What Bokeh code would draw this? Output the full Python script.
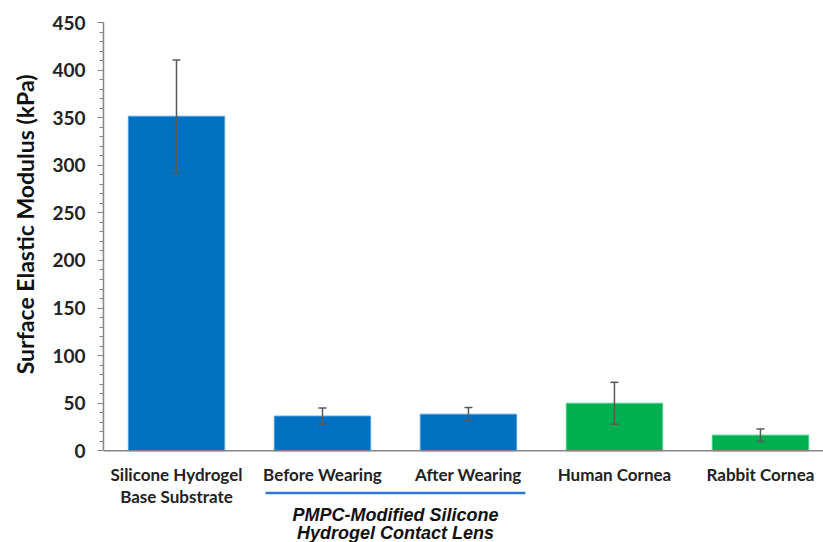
from bokeh.plotting import figure
from bokeh.models import Range1d, FixedTicker, ColumnDataSource, Whisker, TeeHead, Title
from bokeh.core.properties import value
from bokeh.embed import file_html
from bokeh.resources import INLINE

# ---- data ----
categories = ["Silicone Hydrogel\nBase Substrate", "Before Wearing", "After Wearing",
              "Human Cornea", "Rabbit Cornea"]
modulus = [351.5, 36.5, 38.5, 50.0, 16.5]
errors = [59.0, 8.5, 7.0, 22.0, 6.5]
bar_colors = ["#0070C0", "#0070C0", "#0070C0", "#00B050", "#00B050"]
edge_colors = ["#4FA0E0", "#4FA0E0", "#4FA0E0", "#40D080", "#40D080"]
group_label = "PMPC-Modified Silicone\nHydrogel Contact Lens"
group_members = [1, 2]
y_ticks = list(range(0, 451, 50))
y_minor = list(range(0, 451, 10))
y_title = "Surface Elastic Modulus (kPa)"

xs = list(range(len(categories)))
src = ColumnDataSource(dict(
    x=xs, top=modulus, color=bar_colors, edge=edge_colors, label=categories,
    upper=[m + e for m, e in zip(modulus, errors)],
    lower=[m - e for m, e in zip(modulus, errors)],
    zero=[0] * len(xs),
))

FONT = "Lato"
TXT = "#222222"
AX = "#868686"

p = figure(width=823, height=542,
           x_range=Range1d(-0.5, 4.432), y_range=Range1d(-96.3, 450),
           output_backend="svg", toolbar_location=None,
           x_axis_location=None,
           min_border_left=103, min_border_right=0, min_border_top=22, min_border_bottom=0)
p.outline_line_color = None
p.xgrid.visible = False
p.ygrid.visible = False
p.background_fill_color = "white"
p.border_fill_color = "white"

# y axis
ya = p.yaxis[0]
ya.bounds = (0, 450)
ya.ticker = FixedTicker(ticks=y_ticks, minor_ticks=y_minor)
ya.axis_line_color = AX
ya.axis_line_width = 1.5
ya.major_tick_line_color = AX
ya.minor_tick_line_color = AX
ya.major_tick_out = 6
ya.major_tick_in = 0
ya.minor_tick_out = 4
ya.minor_tick_in = 0
ya.major_label_standoff = 12
ya.major_label_text_font = FONT
ya.major_label_text_font_size = "19px"
ya.major_label_text_font_style = "bold"
ya.major_label_text_color = TXT

# y title (left side, top end near the top of the axis)
p.add_layout(Title(text=y_title, align="right", vertical_align="middle", offset=52, standoff=19,
                   text_font=FONT, text_font_size="23px", text_font_style="bold",
                   text_color="#111111"), "left")

# bars
p.vbar(x="x", top="top", bottom=0, width=0.66, source=src,
       fill_color="color", line_color="edge", line_width=1)

# baseline
p.segment(x0=[-0.5], y0=[0], x1=[4.5], y1=[0], line_color=AX, line_width=1.5)

# error bars
p.add_layout(Whisker(base="x", upper="upper", lower="lower", source=src, level="overlay",
                     line_color="#595959", line_width=1.5,
                     upper_head=TeeHead(size=8, line_color="#595959", line_width=1.5),
                     lower_head=TeeHead(size=8, line_color="#595959", line_width=1.5)))

# category labels
p.text(x="x", y="zero", text="label", source=src, text_align="center", text_baseline="top",
       y_offset=13, text_font=value(FONT), text_font_size="17px", text_font_style="bold",
       text_color=TXT, text_line_height=1.05)

# group bracket line + label
gc = sum(group_members) / len(group_members)
p.segment(x0=[gc - 0.89], y0=[-44.3], x1=[gc + 0.89], y1=[-44.3],
          line_color="#2E75D0", line_width=2.5)
p.text(x=[gc], y=[0], text=[group_label], text_align="center", text_baseline="top",
       y_offset=54, text_font=value("Liberation Sans"), text_font_size="18px",
       text_font_style="bold italic", text_color="#111111", text_line_height=0.9)

open("out.html", "w").write(file_html(p, INLINE))
